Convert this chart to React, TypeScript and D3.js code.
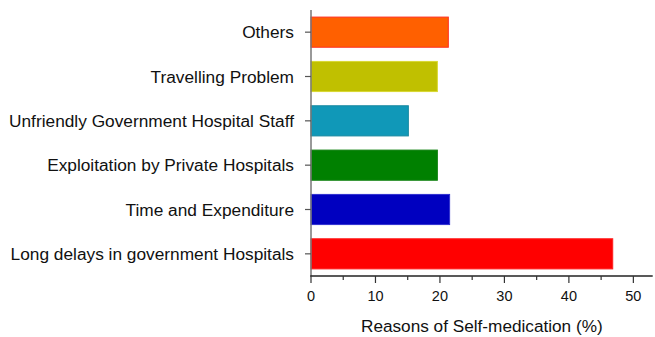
import React from "react";
import * as d3 from "d3";

const categories = [
  "Others",
  "Travelling Problem",
  "Unfriendly Government Hospital Staff",
  "Exploitation by Private Hospitals",
  "Time and Expenditure",
  "Long delays in government Hospitals",
];
const values = [21.3, 19.6, 15.1, 19.6, 21.5, 46.8];
const fills = ["#FF6000", "#C0C000", "#1098B8", "#008000", "#0000C0", "#FF0000"];
const strokes = ["#FF3020", "#D8D830", "#1888A0", "#108010", "#3030D0", "#FF2020"];
const majorTicks = [0, 10, 20, 30, 40, 50];
const minorTicks = [5, 15, 25, 35, 45];
const xTitle = "Reasons of Self-medication (%)";

const W = 655;
const H = 337;
const FONT = "'Liberation Sans', Arial, sans-serif";

export default function App() {
  const x = d3.scaleLinear().domain([0, 53]).range([311, 652.7]);
  const y = d3
    .scaleBand<string>()
    .domain(categories)
    .range([10, 276])
    .paddingInner(0.32)
    .paddingOuter(0.16);
  const x0 = x(0);
  const axisY = 276;

  return (
    <svg
      width={W}
      height={H}
      style={{ position: "absolute", left: 0, top: 0, background: "#fff" }}
      fontFamily={FONT}
    >
      {categories.map((c, i) => (
        <rect
          key={c}
          x={x0}
          y={y(c)!}
          width={x(values[i]) - x0}
          height={y.bandwidth()}
          fill={fills[i]}
          stroke={strokes[i]}
          strokeWidth={1}
        />
      ))}
      {/* y axis */}
      <line x1={x0} x2={x0} y1={10} y2={axisY} stroke="#777" strokeWidth={1.5} />
      {categories.map((c) => {
        const cy = y(c)! + y.bandwidth() / 2;
        return (
          <g key={"yl" + c}>
            <line x1={x0 - 6} x2={x0} y1={cy} y2={cy} stroke="#555" strokeWidth={1.2} />
            <text
              x={294}
              y={cy}
              textAnchor="end"
              dominantBaseline="central"
              fontSize={17.3}
              fill="#111"
            >
              {c}
            </text>
          </g>
        );
      })}
      {/* x axis */}
      <line x1={x0 - 0.75} x2={x.range()[1]} y1={axisY} y2={axisY} stroke="#222" strokeWidth={1.5} />
      {majorTicks.map((t) => (
        <g key={"mt" + t}>
          <line x1={x(t)} x2={x(t)} y1={axisY} y2={axisY + 7} stroke="#333" strokeWidth={1.2} />
          <text x={x(t)} y={300.5} textAnchor="middle" fontSize={14.5} fill="#111">
            {t}
          </text>
        </g>
      ))}
      {minorTicks.map((t) => (
        <line key={"mn" + t} x1={x(t)} x2={x(t)} y1={axisY} y2={axisY + 4} stroke="#333" strokeWidth={1.2} />
      ))}
      <text
        x={(x.range()[0] + x.range()[1]) / 2}
        y={331.5}
        textAnchor="middle"
        fontSize={17.2}
        fill="#111"
      >
        {xTitle}
      </text>
    </svg>
  );
}
